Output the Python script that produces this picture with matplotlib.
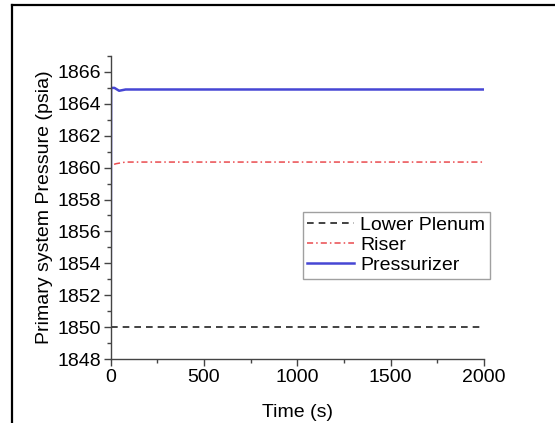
import numpy as np
import matplotlib
matplotlib.use("Agg")
import matplotlib.pyplot as plt
from matplotlib.lines import Line2D

plt.rcParams['font.family'] = ['Liberation Sans', 'DejaVu Sans']

# time histories (s, psia)
t_lower = [0, 2000]
p_lower = [1850.0, 1850.0]

t_riser = [0, 2, 30, 80, 2000]
p_riser = [1850.0, 1860.15, 1860.25, 1860.35, 1860.35]

t_przr = [0, 2, 20, 45, 80, 2000]
p_przr = [1850.0, 1865.0, 1865.0, 1864.82, 1864.9, 1864.9]

series_names = ["Lower Plenum", "Riser", "Pressurizer"]

fig = plt.figure(figsize=(5.55, 4.23), dpi=100, facecolor='white')
ax = fig.add_axes([0.1995, 0.1513, 0.6725, 0.7163])

ax.plot(t_lower, p_lower, color='#222222', linestyle=(0, (4, 3)), linewidth=1.2, label=series_names[0])
ax.plot(t_riser, p_riser, color='#ea4a4e', linestyle=(0, (4, 2, 1, 2)), linewidth=1.1, label=series_names[1])
ax.plot(t_przr, p_przr, color='#4646d4', linestyle='-', linewidth=1.8, label=series_names[2])

ax.set_xlim(0, 2000)
ax.set_ylim(1848, 1867)
ax.set_xticks(np.arange(0, 2001, 500))
ax.set_xticks(np.arange(0, 2001, 250), minor=True)
ax.set_yticks(np.arange(1848, 1867, 2))
ax.set_yticks(np.arange(1848, 1868, 1), minor=True)

for side in ['top', 'right']:
    ax.spines[side].set_visible(False)
for side in ['left', 'bottom']:
    ax.spines[side].set_color('#444444')
    ax.spines[side].set_linewidth(1.0)

ax.tick_params(which='major', direction='out', length=5, width=1, colors='#444444',
               labelsize=14, labelcolor='black', pad=2)
ax.tick_params(which='minor', direction='out', length=3, width=1, colors='#444444')

ax.set_xlabel("Time (s)", fontsize=14, labelpad=13)
ax.set_ylabel("Primary system Pressure (psia)", fontsize=14, labelpad=3)

leg = ax.legend(loc='upper left', bbox_to_anchor=(0.514, 0.486), borderaxespad=0,
                fontsize=14, frameon=True, fancybox=False, handlelength=2.4,
                handletextpad=0.3, labelspacing=0.12, borderpad=0.25)
leg.get_frame().set_edgecolor('#888888')
leg.get_frame().set_linewidth(1.0)

# page border around the figure
fig.add_artist(Line2D([12 / 555, 12 / 555], [0, 1 - 5 / 423], transform=fig.transFigure,
                      color='black', linewidth=1.6))
fig.add_artist(Line2D([12 / 555, 1], [1 - 5 / 423, 1 - 5 / 423], transform=fig.transFigure,
                      color='black', linewidth=1.6))

fig.savefig("out.png", dpi=100)
